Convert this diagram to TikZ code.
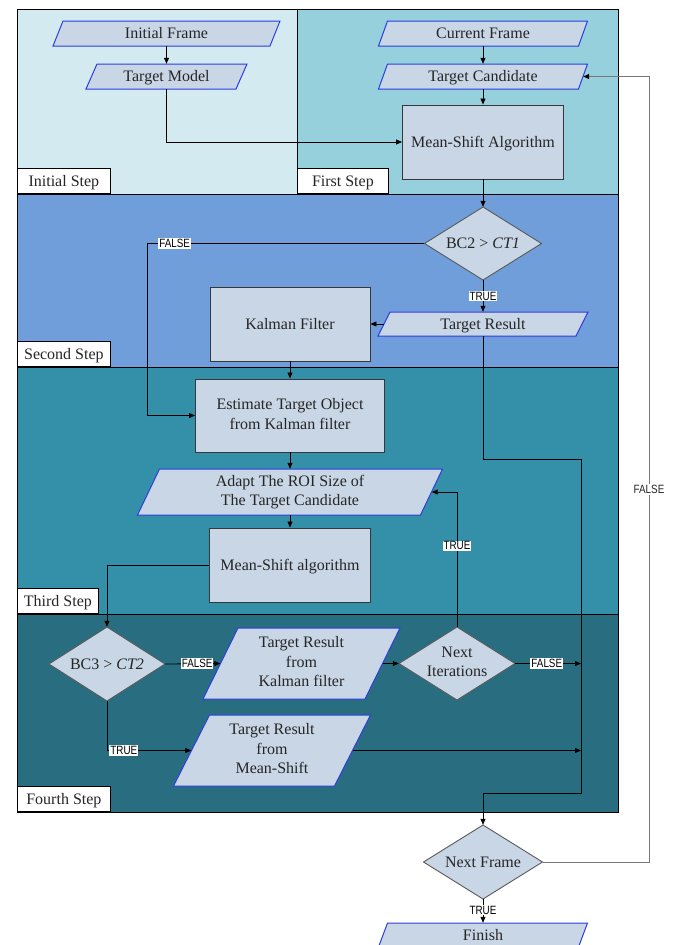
\documentclass[tikz,border=0pt]{standalone}
\usepackage{fontspec}
\setmainfont{Liberation Serif}
\newfontfamily\lblfont[FakeStretch=0.82]{Liberation Sans}
\usetikzlibrary{arrows.meta,calc}
\definecolor{bandA}{RGB}{210,234,240}
\definecolor{bandB}{RGB}{150,208,220}
\definecolor{bandC}{RGB}{112,158,218}
\definecolor{bandD}{RGB}{52,144,168}
\definecolor{bandE}{RGB}{40,110,128}
\definecolor{boxfill}{RGB}{200,214,230}
\definecolor{paraline}{RGB}{45,60,225}
\definecolor{rectline}{RGB}{55,55,55}
\definecolor{diamline}{RGB}{90,90,90}
\definecolor{txt}{RGB}{38,38,38}
\definecolor{loopgray}{RGB}{120,120,120}
\newcommand\wstrut{\vrule width 0pt height 14.3pt depth 3.5pt\relax}
% name, x, y, width (mid-line), height, slant, text
\newcommand\paranode[7]{%
  \filldraw[parashape] (#2-#4/2+#6/2, #3-#5/2) -- (#2+#4/2+#6/2, #3-#5/2)
    -- (#2+#4/2-#6/2, #3+#5/2) -- (#2-#4/2-#6/2, #3+#5/2) -- cycle;
  \node[paratext, minimum width=#4pt, minimum height=#5pt] (#1) at (#2,#3) {#7};}
% name, x, y, width, height, text
\newcommand\diamnode[6]{%
  \filldraw[diamshape] (#2-#4/2,#3) -- (#2,#3-#5/2) -- (#2+#4/2,#3) -- (#2,#3+#5/2) -- cycle;
  \node[paratext, minimum width=#4pt, minimum height=#5pt] (#1) at (#2,#3) {#6};}
\begin{document}
\begin{tikzpicture}[x=1pt,y=-1pt,
  every node/.style={font=\fontsize{16}{19.5}\selectfont, text=txt},
  wtext/.style={execute at begin node=\wstrut, execute at end node=\wstrut},
  band/.style={draw=black, line width=0.8pt},
  steplbl/.style={wtext, draw=black, fill=white, line width=0.8pt, anchor=south west, inner sep=0pt, minimum height=25pt},
  parashape/.style={fill=boxfill, draw=paraline, line width=1pt},
  diamshape/.style={fill=boxfill, draw=diamline, line width=0.9pt},
  paratext/.style={wtext, inner sep=0pt, align=center},
  procbox/.style={wtext, draw=rectline, fill=boxfill, line width=0.9pt, inner sep=0pt, align=center},
  arr/.style={-{Triangle[length=6pt,width=5pt]}, line width=0.8pt, draw=black},
  looparr/.style={-{Triangle[length=6pt,width=5pt,color=black,fill=black]}, line width=0.8pt, draw=loopgray},
  tag/.style={font=\lblfont\fontsize{12}{13}\selectfont, fill=white, inner sep=1pt, text=black},
]
\useasboundingbox (0,0) rectangle (682,945);
\fill[white] (0,0) rectangle (682,945);
% bands
\fill[bandA] (17,9) rectangle (297,194);
\fill[bandB] (297,9) rectangle (618,194);
\fill[bandC] (17,194) rectangle (618,367);
\fill[bandD] (17,367) rectangle (618,614);
\fill[bandE] (17,614) rectangle (618,812);
\draw[band] (17,9) rectangle (618,812);
\draw[band] (297,9) -- (297,194);
\draw[band] (17,194) -- (618,194);
\draw[band] (17,367) -- (618,367);
\draw[band] (17,614) -- (618,614);
% step labels
\node[steplbl, minimum width=93pt] (lblA) at (17,194) {Initial Step};
\node[steplbl, minimum width=91pt] (lblB) at (297,194) {First Step};
\node[steplbl, minimum width=93pt] (lblC) at (17,367) {Second Step};
\node[steplbl, minimum width=81pt] (lblD) at (17,614) {Third Step};
\node[steplbl, minimum width=93pt] (lblE) at (17,812) {Fourth Step};
% nodes
\paranode{ifr}{166.5}{33.5}{217}{25}{10}{Initial Frame}
\paranode{tm}{166.5}{76.5}{150}{25}{11}{Target Model}
\paranode{cf}{483}{33.5}{200}{25}{9}{Current Frame}
\paranode{tc}{483}{76.5}{200}{25}{9}{Target Candidate}
\node[procbox, minimum width=161pt, minimum height=74pt] (msa) at (483,142) {Mean-Shift Algorithm};
\diamnode{bc2}{483}{243.5}{117}{73}{BC2 > \textit{CT1}}
\paranode{tr}{483}{324}{198}{24}{12}{Target Result}
\node[procbox, minimum width=160pt, minimum height=74pt] (kal) at (290,324) {Kalman Filter};
\node[procbox, minimum width=189pt, minimum height=73pt] (est) at (290,415.5) {Estimate Target Object\\from Kalman filter};
\paranode{adapt}{290}{492}{283}{46}{22}{Adapt The ROI Size of\\The Target Candidate}
\node[procbox, minimum width=161pt, minimum height=74pt] (ms2) at (290,565) {Mean-Shift algorithm};
\diamnode{bc3}{107}{664}{116}{74}{BC3 > \textit{CT2}}
\paranode{trk}{301.5}{663.5}{162}{71}{35}{Target Result\\from\\Kalman filter}
\diamnode{ni}{457}{663.5}{116}{73}{Next\\Iterations}
\paranode{trms}{272}{750.5}{161}{71}{36}{Target Result\\from\\Mean-Shift}
\diamnode{nf}{483}{862}{119}{74}{Next Frame}
\paranode{fin}{483}{935}{200}{24}{9}{Finish}
% helper coordinates
\coordinate (fk) at (147,243.5);
\coordinate (r1) at (581,459);
\coordinate (r2) at (581,793);
\coordinate (r3) at (581,663.5);
\coordinate (r4) at (581,750.5);
\coordinate (fl) at (649,76.5);
% connectors
\draw[arr] (ifr.south) -- (tm.north);
\draw[arr] (tm.south) |- (msa.west);
\draw[arr] (cf.south) -- (tc.north);
\draw[arr] (tc.south) -- (msa.north);
\draw[arr] (msa.south) -- (bc2.north);
\draw[arr] (bc2.west) -- node[tag, pos=0.9]{FALSE} (fk) |- (est.west);
\draw[arr] (bc2.south) -- node[tag]{TRUE} (tr.north);
\draw[arr] (tr.west) -- (kal.east);
\draw[arr] (tr.south) |- (r1) -- (r2) -| (nf.north);
\draw[arr] (kal.south) -- (est.north);
\draw[arr] (est.south) -- (adapt.north);
\draw[arr] (adapt.south) -- (ms2.north);
\draw[arr] (ms2.west) -| (bc3.north);
\draw[arr] (bc3.east) -- node[tag, pos=0.58]{FALSE} (trk.west);
\draw[arr] (trk.east) -- (ni.west);
\draw[arr] (ni.east) -- node[tag, pos=0.48]{FALSE} (r3);
\draw[arr] (ni.north) |- node[tag, pos=0.3]{TRUE} (adapt.east);
\draw[arr] (bc3.south) |- node[tag, pos=0.6]{TRUE} (trms.west);
\draw[arr] (trms.east) -- (r4);
\draw[looparr] (nf.east) -| node[tag, pos=0.737, text=txt]{FALSE} (fl) -- (tc.east);
\draw[arr] (nf.south) -- node[tag, pos=0.46]{TRUE} (fin.north);
\end{tikzpicture}
\end{document}
